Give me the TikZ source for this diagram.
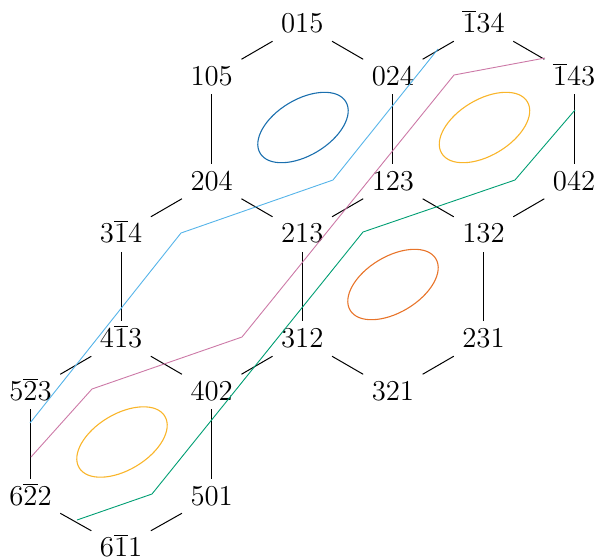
\documentclass[tikz,border=0pt]{standalone}
\usepackage{xcolor}
\definecolor{cblue}{HTML}{1A6FAE}
\definecolor{cyel}{HTML}{F9B52A}
\definecolor{corg}{HTML}{E8742A}
\definecolor{csky}{HTML}{56B4E9}
\definecolor{cpink}{HTML}{CC79A7}
\definecolor{cgreen}{HTML}{009E73}
\begin{document}
\begin{tikzpicture}[x=0.5pt,y=-0.5pt,
  lbl/.style={inner xsep=4.1pt, inner ysep=4.35pt, text height=8.8pt, text depth=0pt,
              font=\fontsize{13.6}{16}\selectfont},
  edge/.style={black, line width=0.5pt},
  ell/.style={line width=0.55pt},
  trail/.style={line width=0.45pt, line join=round}]
\useasboundingbox (0,0) rectangle (595,559);
% lattice: x = 30.5 + 90.6 i, y = 24 + 52.5 j
\node[lbl] (n015)  at (302.3,24)    {$015$};
\node[lbl] (nb134) at (483.5,24)    {$\overline{1}34$};
\node[lbl] (n105)  at (211.7,76.5)  {$105$};
\node[lbl] (n024)  at (392.9,76.5)  {$024$};
\node[lbl] (nb143) at (574.1,76.5)  {$\overline{1}43$};
\node[lbl] (n204)  at (211.7,181.5) {$204$};
\node[lbl] (n123)  at (392.9,181.5) {$123$};
\node[lbl] (n042)  at (574.1,181.5) {$042$};
\node[lbl] (n3b14) at (121.1,234)   {$3\overline{1}4$};
\node[lbl] (n213)  at (302.3,234)   {$213$};
\node[lbl] (n132)  at (483.5,234)   {$132$};
\node[lbl] (n4b13) at (121.1,339)   {$4\overline{1}3$};
\node[lbl] (n312)  at (302.3,339)   {$312$};
\node[lbl] (n231)  at (483.5,339)   {$231$};
\node[lbl] (n5b23) at (30.5,391.5)  {$5\overline{2}3$};
\node[lbl] (n402)  at (211.7,391.5) {$402$};
\node[lbl] (n321)  at (392.9,391.5) {$321$};
\node[lbl] (n6b22) at (30.5,496.5)  {$6\overline{2}2$};
\node[lbl] (n501)  at (211.7,496.5) {$501$};
\node[lbl] (n6b11) at (121.1,547.5) {$6\overline{1}1$};
% edges
\foreach \a/\b in {n015/n105, n015/n024, n105/n204, n024/n123, n204/n213, n123/n213,
  n024/nb134, nb134/nb143, nb143/n042, n042/n132, n123/n132, n204/n3b14, n3b14/n4b13,
  n213/n312, n4b13/n5b23, n4b13/n402, n402/n312, n312/n321, n321/n231, n231/n132,
  n5b23/n6b22, n402/n501, n6b22/n6b11, n501/n6b11}
  \draw[edge] (\a) -- (\b);
% ellipses
\begin{scope}[shift={(303,127.5)}, rotate=31]
  \draw[ell, cblue] (0,0) ellipse [x radius=25pt, y radius=14pt];
\end{scope}
\begin{scope}[shift={(484.5,127.5)}, rotate=31]
  \draw[ell, cyel] (0,0) ellipse [x radius=25pt, y radius=14pt];
\end{scope}
\begin{scope}[shift={(393,284.5)}, rotate=31]
  \draw[ell, corg] (0,0) ellipse [x radius=25pt, y radius=14pt];
\end{scope}
\begin{scope}[shift={(122,442)}, rotate=31]
  \draw[ell, cyel] (0,0) ellipse [x radius=25pt, y radius=14pt];
\end{scope}
% coloured trails
\draw[trail, csky]   (30,423) -- (181,233) -- (333,180) -- (438,49);
\draw[trail, cpink]  (31,457) -- (92,389) -- (242,337) -- (454,75) -- (545,58);
\draw[trail, cgreen] (77,520) -- (152,494) -- (363,232) -- (515,180) -- (575,110);
\end{tikzpicture}
\end{document}
